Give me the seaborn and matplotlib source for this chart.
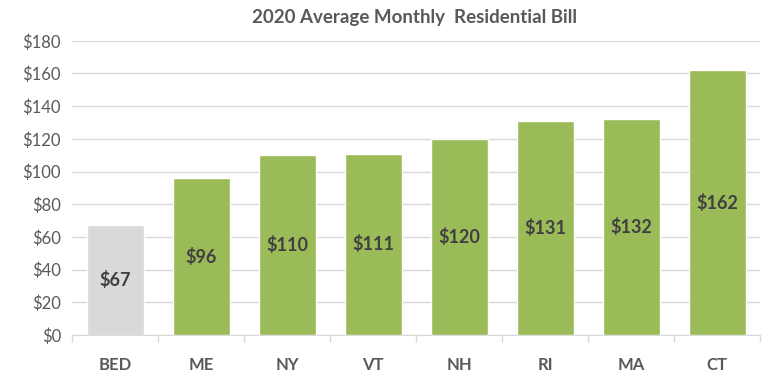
import pandas as pd
import seaborn as sns
import matplotlib.pyplot as plt
from matplotlib.ticker import FuncFormatter, MultipleLocator

# data
states = ['BED', 'ME', 'NY', 'VT', 'NH', 'RI', 'MA', 'CT']
bills = [67, 96, 110, 111, 120, 131, 132, 162]
bar_colors = ['#D9D9D9', '#9BBB59', '#9BBB59', '#9BBB59', '#9BBB59', '#9BBB59', '#9BBB59', '#9BBB59']

df = pd.DataFrame({'state': states, 'bill': bills})

sns.set_style('white')
plt.rcParams['font.family'] = ['Lato', 'DejaVu Sans']

fig = plt.figure(figsize=(7.68, 3.85), dpi=100)
ax = fig.add_axes([0.094, 0.130, 0.896, 0.764])

sns.barplot(data=df, x='state', y='bill', hue='state', palette=bar_colors,
            legend=False, width=0.66, saturation=1, ax=ax)

# value labels in the middle of bars
for i, v in enumerate(bills):
    ax.text(i, v / 2, f'${v}', ha='center', va='center',
            fontsize=13, fontweight='bold', color='#404040')

ax.set_ylim(0, 180)
ax.yaxis.set_major_locator(MultipleLocator(20))
ax.yaxis.set_major_formatter(FuncFormatter(lambda v, p: f'${v:.0f}'))
ax.grid(axis='y', color='#D9D9D9', linewidth=1)
ax.set_axisbelow(True)
for s in ['top', 'right', 'left']:
    ax.spines[s].set_visible(False)
ax.spines['bottom'].set_color('#D9D9D9')

ax.set_xlabel('')
ax.set_ylabel('')
ax.tick_params(axis='y', length=0, labelsize=12, labelcolor='#595959', pad=8)
ax.tick_params(axis='x', length=0, labelsize=12, labelcolor='#595959', pad=16)
for lab in ax.get_xticklabels():
    lab.set_fontweight('bold')

# small ticks at category boundaries
ax.set_xticks([i - 0.5 for i in range(len(states) + 1)], minor=True)
ax.tick_params(axis='x', which='minor', bottom=True, length=5, width=1,
               color='#D9D9D9', direction='out')
ax.set_xlim(-0.5, len(states) - 0.5)

fig.text(0.54, 0.955, '2020 Average Monthly  Residential Bill', ha='center', va='center',
         fontsize=13.5, fontweight='bold', color='#595959')

fig.savefig('out.png', dpi=100)
